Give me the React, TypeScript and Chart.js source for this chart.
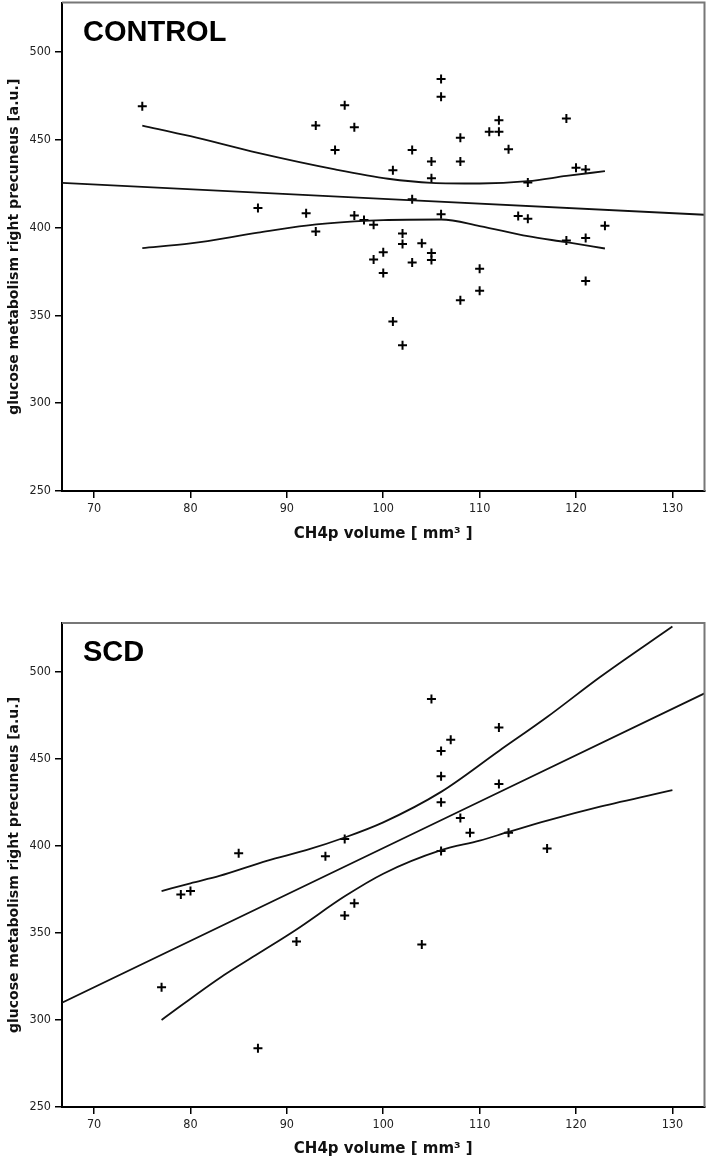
import { useEffect, useRef } from "react"
import { Chart, registerables } from "chart.js"

Chart.register(...registerables)

// CONTROL group (CH4p volume mm³, glucose metabolism a.u.)
const controlX = [
  75, 96, 93, 97, 95, 87, 92, 93, 97, 98, 99, 100, 99, 100, 106, 106, 119, 112, 111, 112, 108, 103, 113, 105, 108,
  101, 105, 120, 121, 115, 103, 106, 114, 115, 123, 102, 102, 104, 105, 105, 103, 119, 121, 110, 110, 108, 121, 101, 102,
]
const controlY = [
  469, 469.5, 458, 457, 444, 411, 408, 397.7, 406.8, 404.2, 401.5, 385.8, 381.7, 374, 484.5, 474.4, 462, 461, 454.5,
  454.5, 451, 444, 444.5, 437.5, 437.5, 432.5, 428, 434, 433, 425.5, 416, 407.5, 406.5, 405, 401, 396.5, 390.5, 391,
  385.5, 381.5, 380, 392.5, 394, 376.5, 364, 358.5, 369.5, 346.5, 333,
]
const controlFitX = [66.67, 133.33]
const controlFitY = [425.4, 407.2]
const controlUpperX = [75, 80, 87, 95, 100.5, 105, 110, 115, 119, 123]
const controlUpperY = [458, 451.9, 442.4, 433, 427.7, 425.4, 425, 426.3, 429.3, 432]
const controlLowerX = [75, 80, 87, 92, 97, 100, 106, 110, 115, 119, 123]
const controlLowerY = [388.2, 390.9, 397, 401, 403.4, 404.2, 404.5, 400.8, 395, 391.6, 388]

// SCD group
const scdX = [105, 112, 107, 106, 106, 112, 106, 108, 109, 113, 106, 117, 85, 94, 96, 79, 80, 97, 96, 91, 104, 77, 87]
const scdY = [
  484.4, 468, 461, 454.5, 440, 435.5, 425, 416, 407.5, 407.5, 397, 398.5, 395.7, 394, 404, 372, 374, 367, 360, 345,
  343.3, 318.8, 283.8,
]
const scdFitX = [66.67, 133.33]
const scdFitY = [309.9, 487.6]
const scdUpperX = [77, 80, 83, 88, 92, 96, 100, 106, 112, 117, 122.5, 130]
const scdUpperY = [374, 378.5, 382.7, 391.5, 397.5, 404.8, 413.5, 431, 454.5, 474, 497, 526]
const scdLowerX = [77, 83, 87, 91, 96, 100, 106, 110, 113, 117, 122.5, 130]
const scdLowerY = [300, 324, 338, 352, 371, 384, 397.5, 403, 408, 414.5, 422.5, 432]

const xTitle = "CH4p volume [ mm³ ]"
const yTitle = "glucose metabolism right precuneus [a.u.]"

const toPoints = (xs: number[], ys: number[]) => xs.map((x, i) => ({ x, y: ys[i] }))

const lineSet = (xs: number[], ys: number[]) => ({
  type: "line" as const,
  data: toPoints(xs, ys),
  showLine: true,
  borderColor: "#111",
  borderWidth: 1.8,
  pointRadius: 0,
  fill: false,
  cubicInterpolationMode: "monotone" as const,
})

interface PanelProps {
  label: string
  xs: number[]
  ys: number[]
  fitX: number[]
  fitY: number[]
  upX: number[]
  upY: number[]
  loX: number[]
  loY: number[]
  top: number
  height: number
  padTop: number
  xAxisHeight: number
  titlePad: number
}

function ScatterPanel(p: PanelProps) {
  const chartRef = useRef<HTMLCanvasElement>(null)
  const chartInstance = useRef<Chart | null>(null)

  useEffect(() => {
    if (!chartRef.current) return
    if (chartInstance.current) chartInstance.current.destroy()
    const ctx = chartRef.current.getContext("2d")
    if (!ctx) return

    // panel name in the upper left corner + grey top/right frame
    const panelDecor = {
      id: "panelDecor",
      afterDraw(chart: Chart) {
        const { ctx, chartArea } = chart
        ctx.save()
        ctx.strokeStyle = "#777"
        ctx.lineWidth = 2
        ctx.beginPath()
        ctx.moveTo(chartArea.left, chartArea.top)
        ctx.lineTo(chartArea.right, chartArea.top)
        ctx.lineTo(chartArea.right, chartArea.bottom)
        ctx.stroke()
        ctx.fillStyle = "#000"
        ctx.font = "bold 29px 'Liberation Sans', Arial, sans-serif"
        ctx.textBaseline = "alphabetic"
        ctx.fillText(p.label, chartArea.left + 21, chartArea.top + 38)
        ctx.restore()
      },
    }

    const tickFont = { family: "'DejaVu Sans Condensed', 'DejaVu Sans', sans-serif", size: 12.5 }

    chartInstance.current = new Chart(ctx, {
      type: "scatter",
      data: {
        datasets: [
          lineSet(p.fitX, p.fitY),
          lineSet(p.upX, p.upY),
          lineSet(p.loX, p.loY),
          {
            data: toPoints(p.xs, p.ys),
            pointStyle: "cross",
            pointRadius: 4.5,
            pointBorderWidth: 2,
            borderColor: "#000",
            backgroundColor: "#000",
          },
        ],
      },
      options: {
        animation: false,
        responsive: true,
        maintainAspectRatio: false,
        layout: { padding: { top: p.padTop, right: 5, left: 0, bottom: 0 } },
        plugins: { legend: { display: false }, tooltip: { enabled: false } },
        scales: {
          x: {
            type: "linear",
            min: 66.67,
            max: 133.33,
            afterFit: (s: any) => {
              s.height = p.xAxisHeight
              s.paddingLeft = 0
              s.paddingRight = 0
            },
            ticks: { stepSize: 10, includeBounds: false, color: "#222", font: tickFont, padding: 3 },
            grid: { drawOnChartArea: false, tickLength: 7, color: "#000", lineWidth: 1.5 },
            border: { color: "#000", width: 2 },
            title: {
              display: true,
              text: xTitle,
              color: "#111",
              font: { family: "'DejaVu Sans', sans-serif", size: 15, weight: "bold" },
              padding: { top: 0, bottom: p.titlePad },
            },
          },
          y: {
            type: "linear",
            min: 250,
            max: 528,
            afterFit: (s: any) => {
              s.width = 62
              s.paddingTop = 0
              s.paddingBottom = 0
            },
            ticks: { stepSize: 50, includeBounds: false, color: "#222", font: tickFont, padding: 4 },
            grid: { drawOnChartArea: false, tickLength: 7, color: "#000", lineWidth: 1.5 },
            border: { color: "#000", width: 2 },
            title: {
              display: true,
              text: yTitle,
              color: "#111",
              font: { family: "'DejaVu Sans', sans-serif", size: 14, weight: "bold" },
              padding: { top: 6, bottom: 0 },
            },
          },
        },
      },
      plugins: [panelDecor],
    } as any)

    return () => {
      if (chartInstance.current) {
        chartInstance.current.destroy()
        chartInstance.current = null
      }
    }
  }, [])

  return (
    <div style={{ position: "absolute", left: 0, top: p.top, width: 711, height: p.height }}>
      <canvas ref={chartRef} />
    </div>
  )
}

export default function App() {
  return (
    <div style={{ position: "absolute", left: 0, top: 0, width: 711, height: 1161, background: "#fff", overflow: "hidden" }}>
      <ScatterPanel
        label="CONTROL"
        xs={controlX}
        ys={controlY}
        fitX={controlFitX}
        fitY={controlFitY}
        upX={controlUpperX}
        upY={controlUpperY}
        loX={controlLowerX}
        loY={controlLowerY}
        top={-4}
        height={564}
        padTop={3}
        xAxisHeight={69}
        titlePad={17}
      />
      <ScatterPanel
        label="SCD"
        xs={scdX}
        ys={scdY}
        fitX={scdFitX}
        fitY={scdFitY}
        upX={scdUpperX}
        upY={scdUpperY}
        loX={scdLowerX}
        loY={scdLowerY}
        top={580}
        height={581}
        padTop={43}
        xAxisHeight={54}
        titlePad={3}
      />
    </div>
  )
}
